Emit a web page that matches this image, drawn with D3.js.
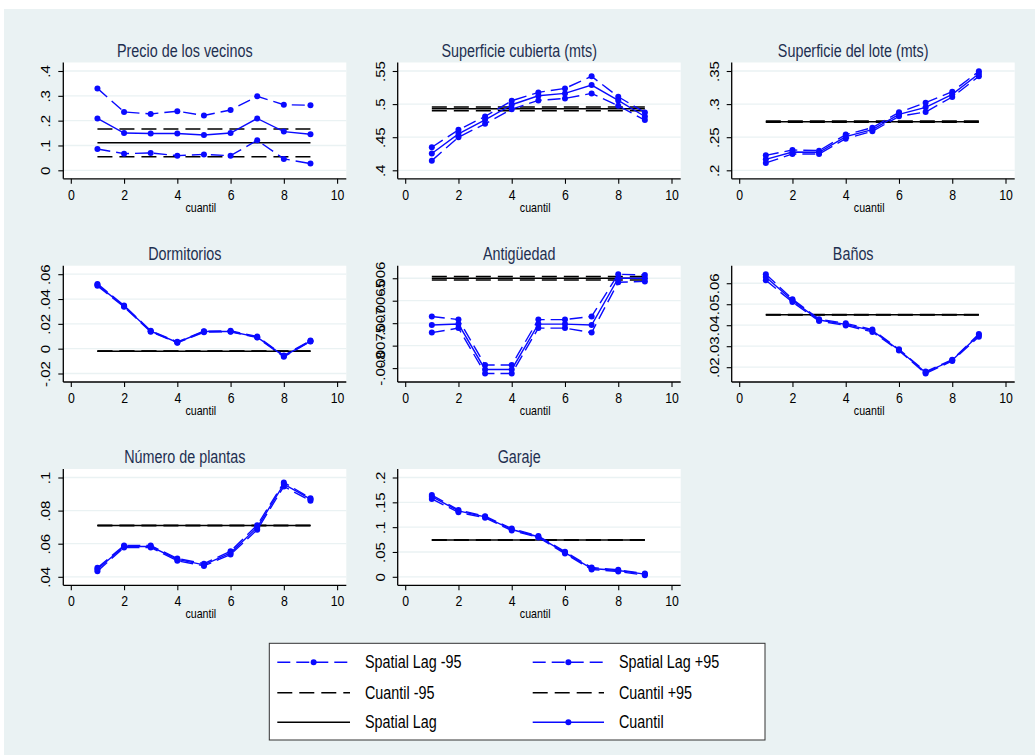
<!DOCTYPE html>
<html>
<head>
<meta charset="utf-8">
<script src="https://cdn.jsdelivr.net/npm/d3@7"></script>
<style>
  body { margin: 0; background: #ffffff; }
  svg text { font-family: "Liberation Sans", Arial, sans-serif; }
</style>
</head>
<body>
<svg id="chart" width="1035" height="755"></svg>
<script>
// ---- data -------------------------------------------------------------
const quantiles = [1, 2, 3, 4, 5, 6, 7, 8, 9];
const xTicks = [0, 2, 4, 6, 8, 10];

const titles = ["Precio de los vecinos", "Superficie cubierta (mts)", "Superficie del lote (mts)",
                "Dormitorios", "Antigüedad", "Baños", "Número de plantas", "Garaje"];

// "Cuantil" (blue solid) and its bands "Spatial Lag -95" / "Spatial Lag +95" (blue dashed)
const precioCuantil = [.209, .150, .148, .148, .142, .150, .209, .156, .145];
const precioLagLo   = [.086, .067, .070, .059, .064, .059, .121, .046, .027];
const precioLagHi   = [.330, .235, .227, .238, .221, .243, .298, .264, .262];

const cubiertaCuantil = [.4253, .4551, .4763, .4990, .5126, .5162, .5288, .5056, .4813];
const cubiertaLagLo   = [.4146, .4500, .4702, .4924, .5056, .5086, .5162, .4975, .4758];
const cubiertaLagHi   = [.4348, .4611, .4813, .5051, .5177, .5237, .5419, .5111, .4874];

const loteCuantil = [.2166, .2277, .2272, .2508, .2614, .2845, .2951, .3147, .3459];
const loteLagLo   = [.2111, .2247, .2247, .2478, .2589, .2815, .2881, .3107, .3419];
const loteLagHi   = [.2226, .2307, .2297, .2539, .2644, .2876, .3022, .3188, .3495];

const dormCuantil = [.0514, .0342, .0141, .0050, .0138, .0138, .0093, -.0060, .0060];
const dormLagLo   = [.0506, .0337, .0136, .0047, .0133, .0136, .0090, -.0066, .0058];
const dormLagHi   = [.0522, .0348, .0144, .0055, .0141, .0144, .0098, -.0055, .0066];

const antigCuantil = [-.00704, -.00702, -.00803, -.00803, -.00702, -.00702, -.00704, -.00600, -.00600];
const antigLagLo   = [-.00721, -.00711, -.00812, -.00812, -.00711, -.00711, -.00721, -.00609, -.00607];
const antigLagHi   = [-.00685, -.00692, -.00793, -.00793, -.00692, -.00692, -.00685, -.00591, -.00593];

const banosCuantil = [.0630, .0518, .0425, .0404, .0374, .0282, .0175, .0233, .0353];
const banosLagLo   = [.0614, .0510, .0420, .0399, .0368, .0279, .0170, .0230, .0345];
const banosLagHi   = [.0643, .0524, .0429, .0409, .0379, .0285, .0179, .0236, .0358];

const plantasCuantil = [.0446, .0583, .0583, .0505, .0472, .0545, .0698, .0960, .0869];
const plantasLagLo   = [.0434, .0577, .0577, .0497, .0466, .0535, .0684, .0946, .0859];
const plantasLagHi   = [.0454, .0589, .0589, .0511, .0479, .0555, .0712, .0970, .0875];

const garajeCuantil = [.1613, .1327, .1207, .0953, .0807, .0487, .0167, .0127, .0053];
const garajeLagLo   = [.1567, .1300, .1187, .0933, .0793, .0467, .0147, .0107, .0033];
const garajeLagHi   = [.1647, .1347, .1220, .0973, .0820, .0507, .0187, .0140, .0067];

// horizontal reference levels, one per panel: "Spatial Lag" (solid) and "Cuantil -95/+95" (dashed)
const spatialLag   = [.111, .4929, .2735, -.0020, -.00600, .0450, .0710, .0740];
const cuantilLo95  = [.055, .4899, .2725, -.0021, -.00604, .0449, .0709, .0739];
const cuantilHi95  = [.166, .4955, .2745, -.0019, -.00596, .0451, .0711, .0741];

const yTicks = [
  [0, .1, .2, .3, .4],
  [.4, .45, .5, .55],
  [.2, .25, .3, .35],
  [-.02, 0, .02, .04, .06],
  [-.008, -.0075, -.007, -.0065, -.006],
  [.02, .03, .04, .05, .06],
  [.04, .06, .08, .1],
  [0, .05, .1, .15, .2]
];

const legendLabels = ["Spatial Lag -95", "Spatial Lag +95", "Cuantil -95", "Cuantil +95", "Spatial Lag", "Cuantil"];

const cuantilSeries = [precioCuantil, cubiertaCuantil, loteCuantil, dormCuantil, antigCuantil, banosCuantil, plantasCuantil, garajeCuantil];
const lagLoSeries   = [precioLagLo, cubiertaLagLo, loteLagLo, dormLagLo, antigLagLo, banosLagLo, plantasLagLo, garajeLagLo];
const lagHiSeries   = [precioLagHi, cubiertaLagHi, loteLagHi, dormLagHi, antigLagHi, banosLagHi, plantasLagHi, garajeLagHi];

// ---- layout & style ---------------------------------------------------
const BG = "#eaf2f3";
const BLUE = "#0a0aff";
const NAVY = "#1e2f50";
const SX = 0.82;                 // horizontal text squeeze
const colLeft = [63.3, 397.7, 731.7];
const rowTop = [62.5, 265.7, 469];
const PW = 283, PH = 116.3, INSET = 8.5;
const DASH_BLUE = "13,6";
const DASH_BLACK = "15,7";

const svg = d3.select("#chart");
svg.append("rect").attr("x", 0).attr("y", 0).attr("width", 1035).attr("height", 755).attr("fill", "#ffffff");
svg.append("rect").attr("x", 4).attr("y", 9).attr("width", 1031).attr("height", 746).attr("fill", BG);

function squeezed(g, x, y, str, size, anchor, color) {
  return g.append("text")
    .attr("transform", `translate(${x},${y}) scale(${SX},1)`)
    .attr("text-anchor", anchor)
    .style("font-size", size + "px")
    .attr("fill", color)
    .text(str);
}

const fmt = v => String(+v.toPrecision(6)).replace(/^(-?)0\./, "$1.");

titles.forEach((title, i) => {
  const col = i % 3, row = Math.floor(i / 3);
  const L = colLeft[col], T = rowTop[row], B = T + PH, R = L + PW;
  const g = svg.append("g");

  const x = d3.scaleLinear().domain([0, 10]).range([L + 7.5, R - 9.2]);
  const allVals = [].concat(cuantilSeries[i], lagLoSeries[i], lagHiSeries[i], yTicks[i]);
  const ext = d3.extent(allVals);
  const y = d3.scaleLinear().domain(ext).range([B - INSET, T + INSET]);

  // plot region
  g.append("rect").attr("x", L).attr("y", T).attr("width", PW).attr("height", PH).attr("fill", "#ffffff");
  // grid
  g.selectAll(".grid").data(yTicks[i]).join("line")
    .attr("x1", L).attr("x2", R)
    .attr("y1", d => y(d)).attr("y2", d => y(d))
    .attr("stroke", BG).attr("stroke-width", 1.3);

  // title
  squeezed(g, L + PW / 2 - 20, T - 5.8, title, 17.5, "middle", NAVY);

  // x axis
  const xa = g.append("g").attr("transform", `translate(0,${B})`)
    .call(d3.axisBottom(x).tickValues(xTicks).tickSize(5).tickSizeOuter(0).tickFormat(d3.format("d")));
  xa.select(".domain").attr("d", `M${L},0H${R}`).attr("stroke", "#000").attr("stroke-width", 1.3);
  xa.selectAll(".tick line").attr("stroke", "#000").attr("stroke-width", 1.1);
  xa.selectAll(".tick text")
    .attr("y", null).attr("dy", null)
    .attr("transform", `translate(0,21) scale(${SX},1)`)
    .style("font-size", "15px").attr("fill", "#000");
  xa.attr("font-family", null);

  // y axis
  const ya = g.append("g").attr("transform", `translate(${L},0)`)
    .call(d3.axisLeft(y).tickValues(yTicks[i]).tickSize(5).tickSizeOuter(0).tickFormat(fmt));
  ya.select(".domain").attr("d", `M0,${T}V${B}`).attr("stroke", "#000").attr("stroke-width", 1.3);
  ya.selectAll(".tick line").attr("stroke", "#000").attr("stroke-width", 1.1);
  ya.selectAll(".tick text")
    .attr("x", null).attr("dy", null)
    .attr("text-anchor", "middle")
    .attr("transform", `translate(-13,0) rotate(-90) scale(1,${SX})`)
    .style("font-size", "15px").attr("fill", "#000");
  ya.attr("font-family", null);

  // x-axis title
  squeezed(g, L + PW / 2 - 4, B + 33, "cuantil", 13, "middle", "#000");

  // horizontal references
  const hl = [
    { v: cuantilHi95[i], dash: DASH_BLACK },
    { v: cuantilLo95[i], dash: DASH_BLACK },
    { v: spatialLag[i], dash: null }
  ];
  hl.forEach(h => {
    g.append("line")
      .attr("x1", x(quantiles[0])).attr("x2", x(quantiles[quantiles.length - 1]))
      .attr("y1", y(h.v)).attr("y2", y(h.v))
      .attr("stroke", "#000").attr("stroke-width", 1.5)
      .attr("stroke-dasharray", h.dash);
  });

  // blue series
  const line = d3.line().x((d, k) => x(quantiles[k])).y(d => y(d));
  [
    { vals: lagHiSeries[i], dash: DASH_BLUE },
    { vals: lagLoSeries[i], dash: DASH_BLUE },
    { vals: cuantilSeries[i], dash: null }
  ].forEach(s => {
    g.append("path").attr("d", line(s.vals))
      .attr("fill", "none").attr("stroke", BLUE).attr("stroke-width", 1.4)
      .attr("stroke-dasharray", s.dash);
    g.selectAll(null).data(s.vals).join("circle")
      .attr("cx", (d, k) => x(quantiles[k])).attr("cy", d => y(d))
      .attr("r", 3).attr("fill", BLUE);
  });
});

// ---- legend ---------------------------------------------------------------
const lg = svg.append("g");
lg.append("rect").attr("x", 269.3).attr("y", 643.3).attr("width", 495.7).attr("height", 96.7)
  .attr("fill", "#ffffff").attr("stroke", "#333").attr("stroke-width", 1);
const legendStyle = [
  { color: BLUE, dash: DASH_BLUE, marker: true },
  { color: BLUE, dash: DASH_BLUE, marker: true },
  { color: "#000", dash: DASH_BLACK, marker: false },
  { color: "#000", dash: DASH_BLACK, marker: false },
  { color: "#000", dash: null, marker: false },
  { color: BLUE, dash: null, marker: true }
];
const legSampleX = [[277.3, 350], [532.7, 604]];
const legTextX = [365, 619];
const legRowY = [662.3, 692.7, 722.3];
legendLabels.forEach((lab, k) => {
  const c = k % 2, r = Math.floor(k / 2);
  const st = legendStyle[k];
  const [x1, x2] = legSampleX[c];
  const yy = legRowY[r];
  lg.append("line").attr("x1", x1).attr("x2", x2).attr("y1", yy).attr("y2", yy)
    .attr("stroke", st.color).attr("stroke-width", 1.5).attr("stroke-dasharray", st.dash);
  if (st.marker) lg.append("circle").attr("cx", (x1 + x2) / 2).attr("cy", yy).attr("r", 3).attr("fill", st.color);
  squeezed(lg, legTextX[c], yy + 6, lab, 17.5, "start", "#000");
});
</script>
</body>
</html>
